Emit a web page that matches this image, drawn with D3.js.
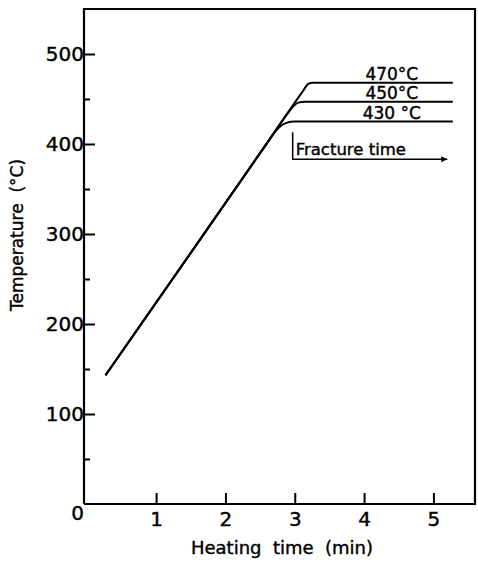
<!DOCTYPE html>
<meta charset="utf-8">
<style>
  body { margin: 0; background: #fff; }
  text { font-family: "DejaVu Sans", sans-serif; fill: #000; stroke: #000; stroke-width: 0.4px; }
</style>
<svg width="478" height="565"></svg>
<script src="https://d3js.org/d3.v7.min.js"></script>
<script>

// heating curves: [time (min), temperature (°C)]
var series470 = [[0.27, 143], [1.5, 279], [2.6, 401], [3.12, 459], [3.19, 466.5], [3.26, 468], [5.28, 468]],
    series450 = [[0.27, 143], [1.5, 279], [2.6, 401], [2.88, 432], [2.98, 442], [3.05, 446], [3.15, 447], [5.28, 447]],
    series430 = [[0.27, 143], [1.5, 279], [2.6, 401], [2.7, 412], [2.78, 419], [2.88, 423.5], [3.0, 425], [5.28, 425]];

var seriesLabels = ["470°C", "450°C", "430 °C"],
    labelTime = 4.4;

var xTicks = [1, 2, 3, 4, 5],
    yTicks = [100, 200, 300, 400, 500],
    yMinorTicks = [50, 150, 250, 350, 450];

// "Fracture time" arrow: start/end time and the temperature levels of bar top / arrow
var fractureTime = [2.97, 5.2],
    fractureTemp = [413, 383];

var svg = d3.select("svg"),
    m = {left: 84, right: 475, top: 9, bottom: 504};

var x = d3.scaleLinear().domain([-0.04, 5.6]).range([m.left, m.right]),
    y = d3.scaleLinear().domain([0, 550]).range([m.bottom, m.top]);

// frame
svg.append("path")
    .attr("d", "M" + m.left + "," + m.bottom + "V" + m.top + "H" + m.right + "V" + m.bottom + "H" + m.left)
    .attr("fill", "none")
    .attr("stroke", "#000")
    .attr("stroke-width", 2.2);

svg.append("g")
    .attr("transform", "translate(" + m.left + ",0)")
    .call(d3.axisLeft(y).tickValues(yTicks).tickSize(-11).tickSizeOuter(0).tickPadding(0));

svg.append("g")
    .attr("transform", "translate(" + m.left + ",0)")
    .call(d3.axisLeft(y).tickValues(yMinorTicks).tickSize(-6).tickSizeOuter(0).tickFormat(""));

svg.append("g")
    .attr("transform", "translate(0," + m.bottom + ")")
    .call(d3.axisBottom(x).tickValues(xTicks).tickSize(-11).tickSizeOuter(0).tickPadding(8).tickFormat(d3.format("d")));

svg.selectAll(".domain").remove();
svg.selectAll(".tick line").attr("stroke-width", 2);
svg.selectAll(".tick text").style("font-size", "20px").style("font-family", "DejaVu Sans, sans-serif");

// origin label
svg.append("text")
    .attr("x", m.left)
    .attr("y", m.bottom + 16)
    .attr("text-anchor", "end")
    .style("font-size", "20px")
    .text("0");

// axis titles
svg.append("text")
    .attr("x", 282)
    .attr("y", 554)
    .attr("text-anchor", "middle")
    .style("font-size", "18px")
    .style("white-space", "pre")
    .text("Heating  time  (min)");

svg.append("text")
    .attr("transform", "translate(23,235) rotate(-90)")
    .attr("text-anchor", "middle")
    .style("font-size", "17px")
    .style("white-space", "pre")
    .text("Temperature  (°C)");

// curves
var line = d3.line()
    .x(function(d) { return x(d[0]); })
    .y(function(d) { return y(d[1]); })
    .curve(d3.curveMonotoneX);

var allSeries = [series470, series450, series430];

svg.selectAll(".curve")
    .data(allSeries)
  .enter().append("path")
    .attr("class", "curve")
    .attr("d", line)
    .attr("fill", "none")
    .attr("stroke", "#000")
    .attr("stroke-width", 2);

svg.selectAll(".curve-label")
    .data(allSeries)
  .enter().append("text")
    .attr("class", "curve-label")
    .attr("x", x(labelTime))
    .attr("y", function(d) { return y(d[d.length - 1][1]) - 3; })
    .attr("text-anchor", "middle")
    .style("font-size", "17px")
    .text(function(d, i) { return seriesLabels[i]; });

// fracture time arrow
svg.append("defs").append("marker")
    .attr("id", "arrow")
    .attr("viewBox", "0 0 10 10")
    .attr("refX", 10)
    .attr("refY", 5)
    .attr("markerWidth", 9)
    .attr("markerHeight", 6)
    .attr("markerUnits", "userSpaceOnUse")
    .attr("orient", "auto")
  .append("path")
    .attr("d", "M0,0L10,5L0,10Z")
    .attr("fill", "#000");

svg.append("path")
    .attr("d", "M" + x(fractureTime[0]) + "," + y(fractureTemp[0]) +
               "V" + y(fractureTemp[1]) + "H" + x(fractureTime[1]))
    .attr("fill", "none")
    .attr("stroke", "#000")
    .attr("stroke-width", 1.5)
    .attr("marker-end", "url(#arrow)");

svg.append("text")
    .attr("x", x(fractureTime[0]) + 3)
    .attr("y", y(fractureTemp[1]) - 4)
    .style("font-size", "16.5px")
    .text("Fracture time");

</script>
